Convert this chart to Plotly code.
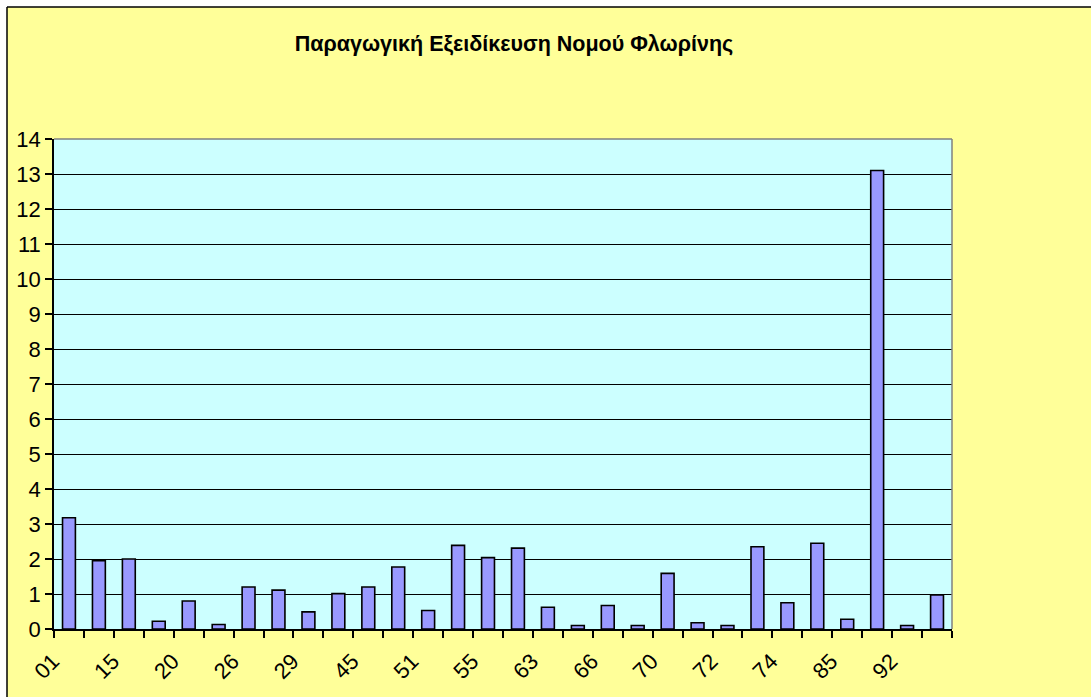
import plotly.graph_objects as go

# sector codes (only every other one is labelled on the axis)
codes = ['01', '14', '15', '18', '20', '25', '26', '28', '29', '36',
         '45', '50', '51', '52', '55', '60', '63', '65', '66', '67',
         '70', '71', '72', '73', '74', '80', '85', '90', '92', '93']
values = [3.18, 1.95, 2.00, 0.22, 0.80, 0.13, 1.20, 1.11, 0.49, 1.01,
          1.20, 1.77, 0.53, 2.39, 2.04, 2.31, 0.62, 0.10, 0.67, 0.10,
          1.59, 0.18, 0.10, 2.35, 0.75, 2.45, 0.28, 13.10, 0.10, 0.97]
tick_text = [c if i % 2 == 0 else '' for i, c in enumerate(codes)]

W, H = 1091, 697
L, R, T, B = 54, 139, 139, 68
pw, ph = W - L - R, H - T - B


def px(x):  # pixel -> paper x
    return (x - L) / pw


def py(y):  # pixel -> paper y
    return (H - B - y) / ph


fig = go.Figure()
fig.add_trace(go.Bar(
    x=codes, y=values,
    marker=dict(color='#9999FF', line=dict(color='black', width=1.6)),
    showlegend=False))

shapes = [
    # white strips left/top and the chart border
    dict(type='rect', xref='paper', yref='paper', x0=px(-5), x1=px(7), y0=py(-5), y1=py(H + 5),
         fillcolor='white', line_width=0, layer='below'),
    dict(type='rect', xref='paper', yref='paper', x0=px(-5), x1=px(W + 5), y0=py(7), y1=py(-5),
         fillcolor='white', line_width=0, layer='below'),
    dict(type='line', xref='paper', yref='paper', x0=px(7), x1=px(7), y0=py(7), y1=py(H + 5),
         line=dict(color='black', width=1.5)),
    dict(type='line', xref='paper', yref='paper', x0=px(7), x1=px(W + 5), y0=py(7), y1=py(7),
         line=dict(color='black', width=1.5)),
    # plot area border top/right
    dict(type='line', xref='paper', yref='paper', x0=0, x1=1, y0=1, y1=1,
         line=dict(color='#808080', width=1.5)),
    dict(type='line', xref='paper', yref='paper', x0=1, x1=1, y0=0, y1=1,
         line=dict(color='#808080', width=1.5)),
]

fig.update_layout(
    width=W, height=H,
    margin=dict(l=L, r=R, t=T, b=B, autoexpand=False),
    paper_bgcolor='#FFFF99',
    plot_bgcolor='#CCFFFF',
    font=dict(family='Liberation Sans, Arial, sans-serif', size=22, color='black'),
    title=dict(text='<b>Παραγωγική Εξειδίκευση Νομού Φλωρίνης</b>',
               x=514 / W, xanchor='center', xref='container',
               y=1 - 43 / H, yanchor='middle', yref='container',
               font=dict(size=21.5)),
    bargap=0.57,
    shapes=shapes,
    xaxis=dict(
        type='category', tickvals=codes, ticktext=tick_text, tickangle=-45,
        tickson='boundaries', ticks='outside', ticklen=7, tickcolor='black', tickwidth=1.5,
        ticklabelstandoff=9, ticklabelshift=-16,
        showline=True, linecolor='black', linewidth=1.5, showgrid=False,
        automargin=False),
    yaxis=dict(
        range=[0, 14], dtick=1, ticks='outside', ticklen=7, tickcolor='black', tickwidth=1.5,
        showline=True, linecolor='black', linewidth=1.5,
        showgrid=True, gridcolor='black', gridwidth=1, zeroline=False,
        automargin=False),
)

# drop the browser's default body margin so the figure sits at the page origin
fig.write_html('out.html', config={'displayModeBar': False},
               post_script="document.body.style.margin='0';")
